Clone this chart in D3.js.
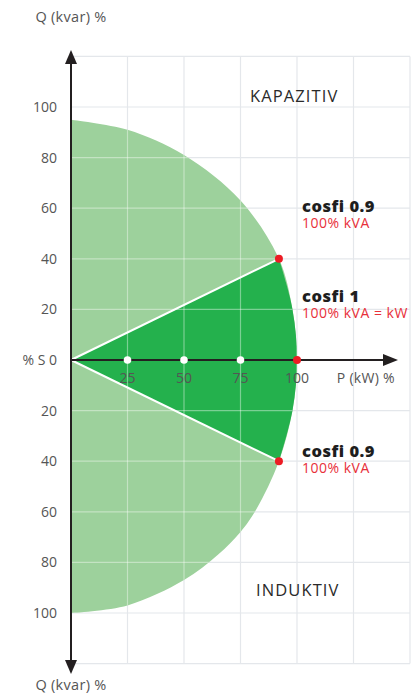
<!DOCTYPE html>
<html>
<head>
<meta charset="utf-8">
<script src="https://cdn.jsdelivr.net/npm/d3@7"></script>
<style>
  html, body { margin: 0; padding: 0; background: #fff; }
  svg { display: block; font-family: "Open Sans", "Noto Sans", sans-serif; }
</style>
</head>
<body>
<svg id="chart" width="416" height="695"></svg>
<script>
// tick values (percent)
const pTicks = [25, 50, 75, 100]
const qTicks = [100, 80, 60, 40, 20, 0, -20, -40, -60, -80, -100]
const gridX = [25, 50, 75, 100, 125, 150]
const gridY = [120, 100, 80, 60, 40, 20, -20, -40, -60, -80, -100, -120]

// outer edge of the operating area (P, Q)
const edgeP = [0, 25, 50, 75, 92, 98, 100, 98, 92, 82, 75, 65, 50, 25, 0]
const edgeQ = [95, 91, 81, 63, 40, 20, 0, -20, -40, -59, -68, -77, -87, -97, -100]

// cosfi limit points
const limitP = [92, 100, 92]
const limitQ = [40, 0, -40]
const labels = [
  {title: 'cosfi 0.9', sub: '100% kVA', top: 212},
  {title: 'cosfi 1', sub: '100% kVA = kW', top: 302},
  {title: 'cosfi 0.9', sub: '100% kVA', top: 457},
]

const svg = d3.select('#chart')
const x = d3.scaleLinear().domain([0, 150]).range([71, 410])
const y = d3.scaleLinear().domain([-120, 120]).range([663.6, 56.4])

const grey = '#555'
const gridColor = '#e4e7eb'

// grid
svg.append('g').selectAll('line').data(gridX).join('line')
  .attr('x1', d => x(d)).attr('x2', d => x(d))
  .attr('y1', y(120)).attr('y2', y(-120))
  .attr('stroke', gridColor).attr('stroke-width', 1.2)
svg.append('g').selectAll('line').data(gridY).join('line')
  .attr('x1', x(0)).attr('x2', x(150))
  .attr('y1', d => y(d)).attr('y2', d => y(d))
  .attr('stroke', gridColor).attr('stroke-width', 1.2)

const edge = edgeP.map((p, i) => [p, edgeQ[i]])
const curve = d3.line().x(d => x(d[0])).y(d => y(d[1])).curve(d3.curveCatmullRom.alpha(0.5))

// light area (whole circle part)
svg.append('path')
  .attr('d', curve(edge) + 'Z')
  .attr('fill', '#9dd19c')

// dark area (cosfi 0.9 .. 0.9)
const i0 = edgeQ.indexOf(40)
const i1 = edgeQ.indexOf(-40)
svg.append('path')
  .attr('d', curve(edge.slice(i0, i1 + 1)) + `L${x(0)},${y(0)}Z`)
  .attr('fill', '#24b14d')

// faint gridlines over the green
svg.append('clipPath').attr('id', 'areaClip')
  .append('path').attr('d', curve(edge) + 'Z')
const over = svg.append('g').attr('clip-path', 'url(#areaClip)')
over.selectAll('line.v').data(gridX.filter(d => d <= 100)).join('line')
  .attr('x1', d => x(d)).attr('x2', d => x(d))
  .attr('y1', y(100)).attr('y2', y(-100))
  .attr('stroke', '#fff').attr('stroke-opacity', 0.4).attr('stroke-width', 1.2)
over.selectAll('line.h').data(gridY).join('line')
  .attr('x1', x(0)).attr('x2', x(100))
  .attr('y1', d => y(d)).attr('y2', d => y(d))
  .attr('stroke', '#fff').attr('stroke-opacity', 0.4).attr('stroke-width', 1.2)

// white rays to cosfi 0.9
svg.append('g').selectAll('line').data([0, 2]).join('line')
  .attr('x1', x(0)).attr('y1', y(0))
  .attr('x2', i => x(limitP[i])).attr('y2', i => y(limitQ[i]))
  .attr('stroke', '#fff').attr('stroke-width', 2)

// axes
const axisColor = '#231f20'
svg.append('line')
  .attr('x1', x(0)).attr('x2', x(0)).attr('y1', y(119)).attr('y2', y(-119))
  .attr('stroke', axisColor).attr('stroke-width', 2)
svg.append('line')
  .attr('x1', x(0)).attr('x2', x(140)).attr('y1', y(0)).attr('y2', y(0))
  .attr('stroke', axisColor).attr('stroke-width', 2)
const ax = x(0), ay = y(0)
svg.append('path').attr('d', `M${ax},50L${ax - 6},64L${ax + 6},64Z`).attr('fill', axisColor)
svg.append('path').attr('d', `M${ax},674L${ax - 6},660L${ax + 6},660Z`).attr('fill', axisColor)
svg.append('path').attr('d', `M398,${ay}L383,${ay - 6}L383,${ay + 6}Z`).attr('fill', axisColor)

// white markers on the P axis
svg.append('g').selectAll('circle').data(pTicks.slice(0, 3)).join('circle')
  .attr('cx', d => x(d)).attr('cy', y(0)).attr('r', 3.8)
  .attr('fill', '#fff')

// red limit points
svg.append('g').selectAll('circle').data(limitP).join('circle')
  .attr('cx', d => x(d)).attr('cy', (d, i) => y(limitQ[i])).attr('r', 4)
  .attr('fill', '#ec1c24')

// tick labels
svg.append('g').selectAll('text').data(qTicks).join('text')
  .attr('x', 57).attr('y', d => y(d) + 5)
  .attr('text-anchor', 'end').attr('font-size', 14).attr('fill', grey)
  .text(d => d === 0 ? '% S 0' : Math.abs(d))
svg.append('g').selectAll('text').data(pTicks).join('text')
  .attr('x', d => x(d)).attr('y', 383)
  .attr('text-anchor', 'middle').attr('font-size', 14).attr('fill', grey)
  .text(d => d)
svg.append('text').attr('x', 395).attr('y', 383).attr('text-anchor', 'end')
  .attr('font-size', 14).attr('letter-spacing', 0.3).attr('fill', grey).text('P (kW) %')
svg.append('text').attr('x', x(0)).attr('y', 22).attr('text-anchor', 'middle')
  .attr('font-size', 14.5).attr('letter-spacing', 0.3).attr('fill', grey).text('Q (kvar) %')
svg.append('text').attr('x', x(0)).attr('y', 690).attr('text-anchor', 'middle')
  .attr('font-size', 14.5).attr('letter-spacing', 0.3).attr('fill', grey).text('Q (kvar) %')

// region names
svg.append('text').attr('x', 250).attr('y', 102).attr('font-size', 16.5)
  .attr('letter-spacing', 1.1).attr('fill', '#2a2a2a').text('KAPAZITIV')
svg.append('text').attr('x', 256).attr('y', 596).attr('font-size', 16.5)
  .attr('letter-spacing', 1.1).attr('fill', '#2a2a2a').text('INDUKTIV')

// cosfi labels
const lab = svg.append('g').selectAll('g').data(labels).join('g')
  .attr('transform', d => `translate(302,${d.top})`)
lab.append('text').attr('y', 0).attr('font-size', 16.5).attr('font-weight', 800)
  .attr('letter-spacing', 0.5).attr('fill', '#1e1e1e').text(d => d.title)
lab.append('text').attr('y', 16).attr('font-size', 14).attr('letter-spacing', 0.5)
  .attr('fill', '#e8303a').text(d => d.sub)
</script>
</body>
</html>
